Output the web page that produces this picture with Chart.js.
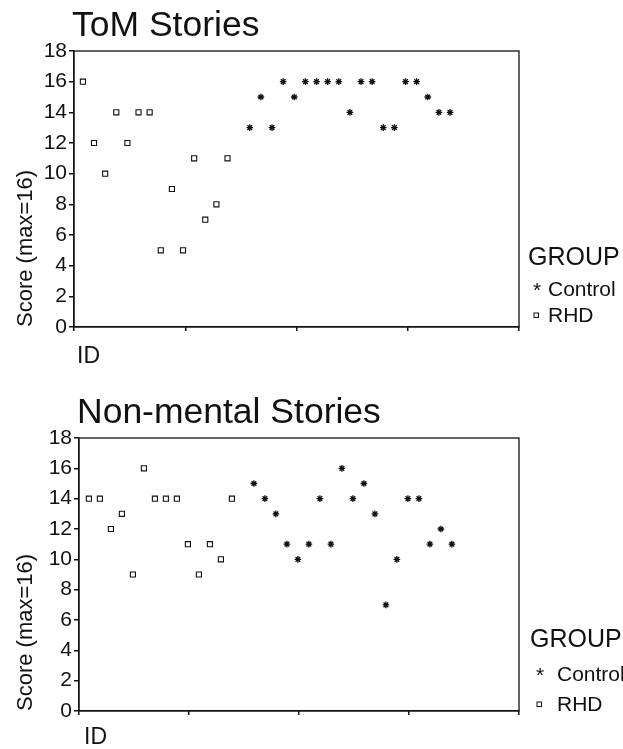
<!DOCTYPE html>
<html>
<head>
<meta charset="utf-8">
<script src="https://cdn.jsdelivr.net/npm/chart.js@4.4.1/dist/chart.umd.min.js"></script>
<style>
  body { margin: 0; background: #fff; }
  canvas { display: block; }
</style>
</head>
<body>
<canvas id="tomChart" width="623" height="375"></canvas>
<canvas id="nonChart" width="623" height="374"></canvas>
<script>
'use strict'
// data
const rhdIds = [1, 2, 3, 4, 5, 6, 7, 8, 9, 10, 11, 12, 13, 14];
const controlIds = [16, 17, 18, 19, 20, 21, 22, 23, 24, 25, 26, 27, 28, 29, 30, 31, 32, 33, 34];

const tomRhd = [16, 12, 10, 14, 12, 14, 14, 5, 9, 5, 11, 7, 8, 11];
const tomControl = [13, 15, 13, 16, 15, 16, 16, 16, 16, 14, 16, 16, 13, 13, 16, 16, 15, 14, 14];

const nonRhd = [14, 14, 12, 13, 9, 16, 14, 14, 14, 11, 9, 11, 10, 14];
const nonControl = [15, 14, 13, 11, 10, 11, 14, 11, 16, 14, 15, 13, 7, 10, 14, 14, 11, 12, 11];

const yTicks = [0, 2, 4, 6, 8, 10, 12, 14, 16, 18];
const groupNames = ['Control', 'RHD'];
const yTitle = 'Score (max=16)';
const xTitle = 'ID';

const ink = '#111';
const FONT = '"Liberation Sans", Arial, sans-serif';

function toPoints(ids, vals) {
  let pts = [];
  for (let i = 0; i < ids.length; i++) {
    pts.push({ x: ids[i], y: vals[i] });
  }
  return pts;
}

// titles, box, ID label and GROUP legend
const decor = {
  id: 'decor',
  afterDraw(chart) {
    const o = chart.options.plugins.decor;
    const ctx = chart.ctx;
    const a = chart.chartArea;
    ctx.save();
    ctx.strokeStyle = ink;
    ctx.lineWidth = 1.3;
    ctx.strokeRect(a.left, a.top, a.right - a.left, a.bottom - a.top);

    ctx.fillStyle = ink;
    ctx.textBaseline = 'alphabetic';
    ctx.textAlign = 'left';
    ctx.font = '35.5px ' + FONT;
    ctx.fillText(o.title, o.titleX, o.titleY);

    ctx.textBaseline = 'middle';
    ctx.font = '23px ' + FONT;
    ctx.fillText(xTitle, o.idX, o.idY);

    ctx.font = '25px ' + FONT;
    ctx.fillText('GROUP', o.legX, o.legY);

    ctx.font = '21px ' + FONT;
    ctx.fillText('*', o.markX - 3, o.legY + o.row1 + 1);
    ctx.fillText(groupNames[0], o.textX, o.legY + o.row1);
    ctx.lineWidth = 1;
    ctx.strokeRect(o.markX - 2, o.legY + o.row2 - 3, 4.5, 4.5);
    ctx.fillText(groupNames[1], o.textX, o.legY + o.row2);
    ctx.restore();
  }
};

function makeChart(id, control, rhd, xMin, leftW, pad, deco) {
  const xTicks = [xMin, xMin + 10, xMin + 20, xMin + 30, xMin + 40];
  return new Chart(document.getElementById(id), {
    type: 'scatter',
    data: {
      datasets: [
        {
          label: groupNames[0],
          data: toPoints(controlIds, control),
          pointStyle: 'star',
          radius: 3.3,
          borderColor: ink,
          borderWidth: 1.3
        },
        {
          label: groupNames[1],
          data: toPoints(rhdIds, rhd),
          pointStyle: 'rect',
          radius: 3.6,
          borderColor: ink,
          backgroundColor: '#fff',
          borderWidth: 1.1
        }
      ]
    },
    options: {
      responsive: false,
      animation: false,
      devicePixelRatio: 1,
      layout: { padding: pad },
      plugins: {
        legend: { display: false },
        tooltip: { enabled: false },
        decor: deco
      },
      scales: {
        x: {
          type: 'linear',
          min: xMin,
          max: xMin + 40,
          afterBuildTicks: (s) => { s.ticks = xTicks.map(v => ({ value: v })); },
          afterFit: (s) => { s.height = 10; },
          ticks: { display: false },
          grid: { drawOnChartArea: false, tickLength: 4, color: ink, lineWidth: 1.5 },
          border: { color: ink, width: 1.3 }
        },
        y: {
          min: 0,
          max: 18,
          afterBuildTicks: (s) => { s.ticks = yTicks.map(v => ({ value: v })); },
          afterFit: (s) => { s.width = leftW; },
          ticks: { color: ink, padding: 2, font: { family: FONT, size: 21 } },
          grid: { drawOnChartArea: false, tickLength: 5, color: ink, lineWidth: 1.5 },
          border: { color: ink, width: 1.3 },
          title: {
            display: true,
            text: yTitle,
            align: 'start',
            color: ink,
            font: { family: FONT, size: 22 },
            padding: { top: 13, bottom: 0 }
          }
        }
      }
    },
    plugins: [decor]
  });
}

makeChart('tomChart', tomControl, tomRhd, 0.2, 74,
  { left: 0, top: 51, right: 104, bottom: 38 },
  { title: 'ToM Stories', titleX: 72, titleY: 36, idX: 77, idY: 357,
    legX: 528, legY: 258, row1: 32, row2: 58, markX: 536, textX: 548 });

makeChart('nonChart', nonControl, nonRhd, 0.1, 79,
  { left: 0, top: 63, right: 104, bottom: 28 },
  { title: 'Non-mental Stories', titleX: 77, titleY: 48, idX: 84, idY: 363,
    legX: 530, legY: 265, row1: 35, row2: 65, markX: 539, textX: 557 });
</script>
</body>
</html>
